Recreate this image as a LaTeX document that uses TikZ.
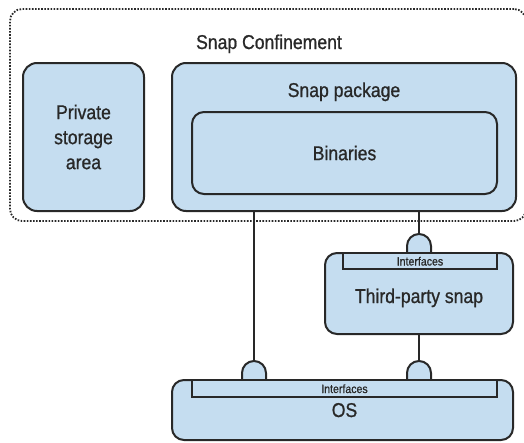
\documentclass[tikz,border=0pt]{standalone}
\usepackage{fontspec}
\setmainfont{Liberation Sans}[FakeStretch=0.88,FakeBold=0.9]
\definecolor{boxfill}{RGB}{197,221,240}
\definecolor{edge}{RGB}{40,40,40}
\begin{document}
\begin{tikzpicture}[x=1pt,y=-1pt,
  box/.style={draw=edge, fill=boxfill, line width=2pt, rounded corners=14pt, inner sep=0pt},
  conf/.style={draw=edge, line width=1.8pt, dash pattern=on 1.6pt off 1.5pt, rounded corners=12pt, inner sep=0pt},
  bar/.style={draw=edge, fill=boxfill, line width=1.6pt, inner sep=0pt},
  lbl/.style={font=\fontsize{20}{25}\selectfont, inner sep=0pt, text=edge},
  small/.style={font=\fontsize{12}{14}\selectfont, inner sep=0pt, text=edge},
  conn/.style={draw=edge, line width=2pt},
  bumpst/.style={draw=edge, fill=boxfill, line width=2pt},
  bump/.pic={\path[bumpst] (-12,0) -- (-12,-7) arc[start angle=180,end angle=360,radius=12] -- (12,0);
             \coordinate (-top) at (0,-19);}
]
\clip (0,0) rectangle (524,442);
\fill[white] (0,0) rectangle (524,442);

% confinement
\node[conf, minimum width=516pt, minimum height=212pt] (conf) at (268,115) {};
\node[lbl, anchor=base] (conftxt) at (269,49) {Snap Confinement};

% bumps (drawn under boxes)
\pic (b3) at (419,253) {bump};
\pic (b1) at (254,380) {bump};
\pic (b2) at (419,380) {bump};

% boxes
\node[box, minimum width=121pt, minimum height=148pt, align=center, lbl] (priv) at (83.5,137) {Private\\storage\\area};
\node[box, minimum width=344pt, minimum height=148pt] (snap) at (344,137) {};
\node[lbl, anchor=base] (snaptxt) at (344,97) {Snap package};
\node[box, rounded corners=12pt, minimum width=305pt, minimum height=82pt, lbl] (bin) at (344.5,153) {Binaries};

\node[box, rounded corners=12pt, minimum width=188pt, minimum height=81pt] (third) at (419,293.5) {};
\node[bar, minimum width=154pt, minimum height=16pt] (tbar) at (420,261) {};
\node[small, anchor=base] (tif) at (420,265.5) {Interfaces};
\node[lbl, anchor=base] (thirdtxt) at (419,303) {Third-party snap};

\node[box, rounded corners=12pt, minimum width=341pt, minimum height=60pt] (os) at (342.5,410) {};
\node[bar, minimum width=305pt, minimum height=17pt] (obar) at (344.5,388.5) {};
\node[small, anchor=base] (oif) at (344.5,393) {Interfaces};
\node[lbl, anchor=base] (ostxt) at (344.5,417) {OS};

% connectors
\draw[conn] (snap.south -| b1-top) -- (b1-top);
\draw[conn] (snap.south -| b3-top) -- (b3-top);
\draw[conn] (third.south -| b2-top) -- (b2-top);
\end{tikzpicture}
\end{document}
